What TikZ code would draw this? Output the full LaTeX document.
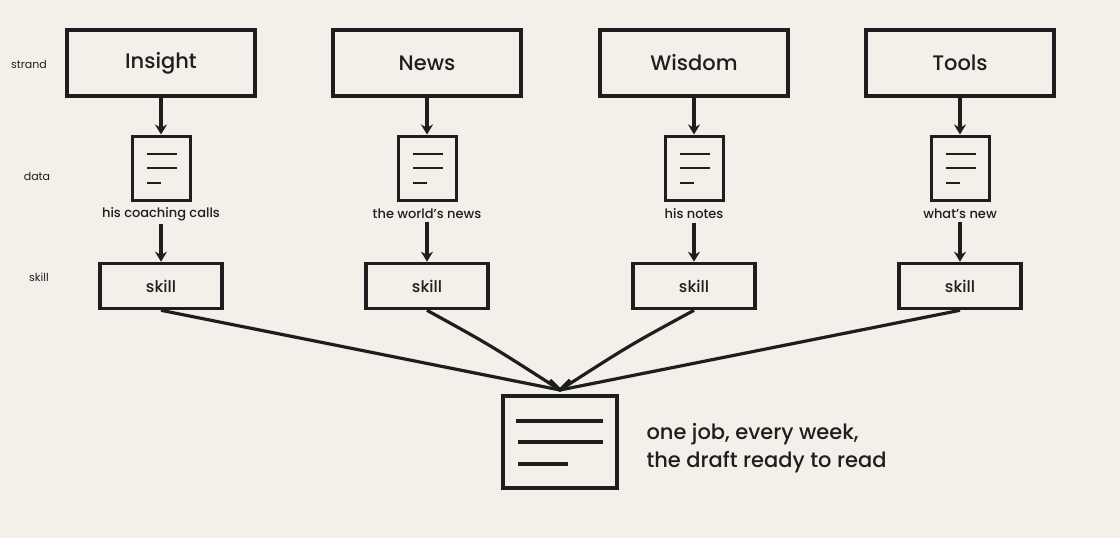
\documentclass[tikz,border=0pt]{standalone}
\usepackage{fontspec}
\setmainfont{Poppins}[BoldFont={Poppins Medium}]
\usetikzlibrary{arrows.meta}
\definecolor{bg}{HTML}{F3F0EA}
\definecolor{ink}{HTML}{1E1E1E}
\begin{document}
\begin{tikzpicture}[x=1pt,y=-1pt,
  strand/.style={draw=ink,line width=4.2pt,minimum width=188pt,minimum height=66pt,font=\bfseries\fontsize{21}{22}\selectfont,text=ink},
  doc/.style={draw=ink,line width=3pt,minimum width=58pt,minimum height=64pt},
  skill/.style={draw=ink,line width=3.6pt,minimum width=122pt,minimum height=45pt,font=\bfseries\fontsize{16}{16}\selectfont,text=ink},
  lbl/.style={font=\bfseries\fontsize{13}{13}\selectfont,text=ink},
  side/.style={font=\fontsize{11}{12}\selectfont,text=ink},
  arr/.style={draw=ink,line width=3.2pt,-{Stealth[length=10pt,width=12pt]}},
  ln/.style={draw=ink,line width=3.2pt}]
\fill[bg] (0,0) rectangle (1120,538);
\useasboundingbox (0,0) rectangle (1120,538);
\node[side] (ls) at (29,64) {strand};
\node[side] (ld) at (37,176) {data};
\node[side] (lk) at (39,277) {skill};
\foreach \n/\x/\t/\d in {a/161/Insight/his coaching calls, b/427/News/the world's news, c/694/Wisdom/his notes, d/960/Tools/what's new}{
  \node[strand] (s\n) at (\x,63) {\t};
  \node[doc] (d\n) at (\x,168) {};
  \draw[ln,line width=2.6pt] ([xshift=-14pt,yshift=14pt]d\n.center) -- ++(30,0)
     ([xshift=-14pt,yshift=0pt]d\n.center) -- ++(30,0)
     ([xshift=-14pt,yshift=-15pt]d\n.center) -- ++(14,0);
  \node[lbl] (t\n) at (\x,214) {\d};
  \node[skill] (k\n) at (\x,286) {skill};
  \draw[arr] (s\n) -- (d\n);
  \draw[arr] (t\n) -- (k\n);
}
\coordinate (m) at (560,390);
\node[draw=ink,line width=3.6pt,minimum width=114pt,minimum height=92pt] (f) at (560,442) {};
\draw[ln] (516,421) -- (603,421) (518,442) -- (603,442) (518,464) -- (568,464);
\draw[ln] (ka.south) -- (m);
\draw[ln] (kb.south) .. controls (490,345) .. (m);
\draw[ln] (kc.south) .. controls (630,345) .. (m);
\draw[ln] (kd.south) -- (m);
\draw[ln] (550,380) -- (m) -- (570,380);
\node[anchor=west,align=left,font=\bfseries\fontsize{21}{28}\selectfont,text=ink] (cap) at (643,448) {one job, every week,\\the draft ready to read};
\end{tikzpicture}
\end{document}
